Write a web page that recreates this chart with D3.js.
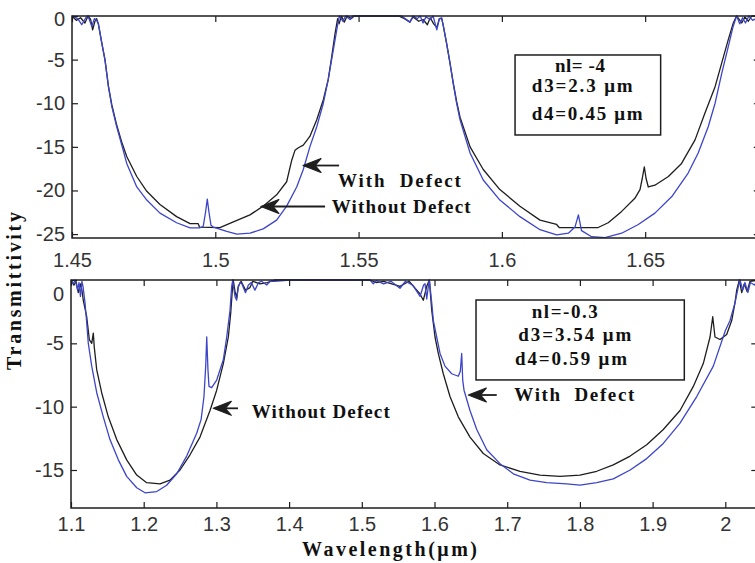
<!DOCTYPE html>
<html>
<head>
<meta charset="utf-8">
<script src="https://cdn.jsdelivr.net/npm/d3@7"></script>
<style>
  body { margin: 0; background: #fff; }
  svg { display: block; }
</style>
</head>
<body>
<svg id="chart" width="755" height="563"></svg>
<script>
// Transmission spectra (dB) versus wavelength (µm) for the two stacks.
// Each series is a list of [wavelength, transmittivity] pairs.

// Upper stack: nl = -4, d3 = 2.3 µm, d4 = 0.45 µm
const topWithDefect = [
  [1.4500,0],[1.4520,-0.3],[1.4534,-1.0],[1.4548,-0.2],[1.4556,0],[1.4569,-1.2],[1.4578,-0.3],
  [1.4586,-0.5],[1.4592,-0.9],[1.4604,-3.1],[1.4615,-5.0],[1.4627,-8.1],[1.4639,-10.4],
  [1.4656,-12.7],[1.4673,-14.7],[1.4691,-16.9],[1.4726,-19.6],[1.4761,-21.1],[1.4807,-22.6],
  [1.4865,-23.7],[1.4912,-24.3],[1.4945,-24.3],[1.4958,-24.1],[1.4966,-22.5],[1.4972,-21.0],
  [1.4978,-22.5],[1.4985,-24.0],[1.4993,-24.2],[1.5040,-24.7],[1.5075,-25.0],[1.5121,-24.9],
  [1.5167,-24.4],[1.5214,-23.4],[1.5249,-21.8],[1.5284,-19.6],[1.5307,-17.6],[1.5330,-15.0],
  [1.5354,-12.7],[1.5377,-10.0],[1.5394,-7.3],[1.5406,-5.0],[1.5418,-2.7],[1.5427,-1.0],
  [1.5433,0],[1.5445,-0.6],[1.5455,0],[1.5470,-0.4],[1.5480,0],[1.5650,0],[1.5679,-0.7],
  [1.5690,0],[1.5705,-0.3],[1.5715,0],[1.5725,-0.8],[1.5735,-0.1],[1.5750,-0.4],[1.5760,0],
  [1.5773,-1.6],[1.5782,-0.3],[1.5790,-0.2],[1.5796,-1.2],[1.5807,-3.1],[1.5819,-5.4],
  [1.5830,-7.7],[1.5842,-10.0],[1.5854,-11.9],[1.5889,-15.7],[1.5935,-18.8],[1.5993,-21.1],
  [1.6063,-23.0],[1.6133,-24.5],[1.6191,-25.1],[1.6232,-24.9],[1.6255,-24.2],[1.6267,-22.8],
  [1.6278,-24.6],[1.6313,-25.3],[1.6360,-25.4],[1.6418,-24.9],[1.6476,-23.9],[1.6534,-22.6],
  [1.6593,-20.7],[1.6650,-18.0],[1.6685,-15.7],[1.6720,-12.7],[1.6744,-10.0],[1.6767,-6.6],
  [1.6790,-3.5],[1.6807,-1.2],[1.6819,0],[1.6830,-0.9],[1.6840,-0.2],[1.6850,-0.8],
  [1.6862,0],[1.6875,-0.5],[1.6900,0]
];
const topWithoutDefect = [
  [1.4500,0],[1.4515,-0.5],[1.4530,-0.2],[1.4545,-0.8],[1.4556,0],[1.4565,-0.4],[1.4572,-1.6],
  [1.4580,-0.6],[1.4586,-0.3],[1.4592,-0.9],[1.4604,-3.1],[1.4615,-5.0],[1.4627,-8.0],
  [1.4639,-10.2],[1.4656,-12.5],[1.4673,-14.4],[1.4691,-16.1],[1.4726,-18.4],[1.4761,-20.1],
  [1.4807,-21.6],[1.4865,-23.0],[1.4912,-23.8],[1.4940,-23.8],[1.4945,-24.2],[1.5016,-24.25],
  [1.5063,-23.6],[1.5121,-22.8],[1.5167,-21.8],[1.5214,-20.5],[1.5249,-19.0],[1.5267,-16.5],
  [1.5278,-15.4],[1.5290,-15.1],[1.5307,-14.8],[1.5330,-13.8],[1.5354,-11.9],[1.5377,-9.6],
  [1.5394,-7.3],[1.5406,-4.7],[1.5418,-2.0],[1.5424,-0.84],[1.5427,-0.3],[1.5432,-0.9],
  [1.5440,0],[1.5450,-0.7],[1.5460,0],[1.5475,-0.3],[1.5485,0],[1.5640,0],[1.5660,-0.3],
  [1.5679,-0.7],[1.5690,-0.1],[1.5710,-0.6],[1.5725,-0.4],[1.5740,-1.0],[1.5750,-0.2],
  [1.5762,-0.9],[1.5773,-1.3],[1.5782,-0.3],[1.5790,-0.3],[1.5796,-1.2],[1.5807,-3.1],
  [1.5819,-5.4],[1.5830,-7.6],[1.5842,-9.8],[1.5854,-11.6],[1.5889,-15.0],[1.5935,-17.6],
  [1.5993,-19.9],[1.6063,-21.8],[1.6133,-23.4],[1.6191,-23.9],[1.6200,-24.25],[1.6336,-24.25],
  [1.6371,-23.7],[1.6418,-22.4],[1.6464,-20.9],[1.6482,-19.9],[1.6490,-18.6],[1.6497,-17.3],
  [1.6503,-18.6],[1.6511,-19.6],[1.6534,-19.4],[1.6581,-18.4],[1.6627,-16.9],[1.6674,-14.2],
  [1.6709,-11.1],[1.6744,-8.1],[1.6767,-5.4],[1.6790,-2.7],[1.6807,-0.84],[1.6819,0],
  [1.6837,-0.8],[1.6848,-0.1],[1.6860,-0.6],[1.6872,0],[1.6900,0]
];

// Lower stack: nl = -0.3, d3 = 3.54 µm, d4 = 0.59 µm
const bottomWithDefect = [
  [1.1000,0],[1.1030,-0.3],[1.1060,0],[1.1090,-0.8],[1.1110,-0.2],[1.1130,-1.3],[1.1150,-0.1],
  [1.1165,-0.5],[1.1193,-1.8],[1.1216,-3.4],[1.1238,-5.0],[1.1285,-6.8],[1.1354,-8.9],
  [1.1444,-10.8],[1.1536,-12.6],[1.1651,-14.2],[1.1766,-15.5],[1.1904,-16.4],[1.2018,-16.8],
  [1.2179,-16.7],[1.2316,-16.2],[1.2454,-15.3],[1.2591,-13.9],[1.2729,-12.1],[1.2790,-11.0],
  [1.2829,-9.2],[1.2853,-6.8],[1.2867,-4.5],[1.2884,-7.1],[1.2898,-8.4],[1.2935,-8.5],
  [1.3004,-7.9],[1.3095,-6.3],[1.3142,-4.5],[1.3187,-2.4],[1.3210,-0.5],[1.3225,0],
  [1.3240,-0.7],[1.3256,-1.3],[1.3279,-1.6],[1.3300,-0.6],[1.3325,-0.2],[1.3350,-0.3],
  [1.3400,-1.0],[1.3440,-0.4],[1.3480,-0.2],[1.3530,-0.8],[1.3580,-0.2],[1.3620,-0.1],
  [1.3692,-0.4],[1.3737,-0.1],[1.3800,-0.1],[1.4012,0],[1.5113,0],[1.5158,-0.3],[1.5200,-0.05],
  [1.5300,-0.3],[1.5400,-0.1],[1.5525,-0.65],[1.5600,-0.1],[1.5700,-0.4],[1.5801,-1.3],
  [1.5850,-0.4],[1.5870,-0.3],[1.5893,-1.5],[1.5915,-0.5],[1.5930,0],[1.5938,-0.5],
  [1.5962,-1.8],[1.5984,-3.2],[1.6030,-4.5],[1.6076,-5.8],[1.6144,-6.8],[1.6237,-7.4],
  [1.6327,-7.6],[1.6355,-7.2],[1.6374,-5.8],[1.6388,-7.9],[1.6406,-8.7],[1.6488,-10.3],
  [1.6581,-11.8],[1.6718,-13.4],[1.6901,-14.5],[1.7084,-15.3],[1.7314,-15.8],[1.7543,-16.0],
  [1.7818,-16.1],[1.8001,-16.2],[1.8231,-16.0],[1.8459,-15.7],[1.8691,-15.0],[1.8919,-14.1],
  [1.9147,-12.9],[1.9377,-11.3],[1.9607,-9.2],[1.9835,-6.8],[2.0000,-4.0],[2.0065,-3.2],
  [2.0133,-1.8],[2.0180,-0.5],[2.0202,0],[2.0240,-0.8],[2.0270,-0.2],[2.0310,-1.0],
  [2.0345,-0.2],[2.0400,-0.4],[2.0450,0]
];
const bottomWithoutDefect = [
  [1.1000,0],[1.1040,-0.4],[1.1070,-0.1],[1.1100,-1.0],[1.1130,-0.3],[1.1150,-0.8],
  [1.1169,-1.6],[1.1216,-2.9],[1.1252,-4.7],[1.1285,-5.0],[1.1307,-4.2],[1.1320,-5.3],
  [1.1354,-7.1],[1.1422,-8.9],[1.1513,-10.8],[1.1629,-12.6],[1.1766,-14.2],[1.1904,-15.4],
  [1.2041,-16.0],[1.2224,-16.1],[1.2362,-15.8],[1.2499,-15.0],[1.2637,-13.8],[1.2774,-12.4],
  [1.2912,-10.3],[1.3004,-8.7],[1.3095,-6.6],[1.3164,-4.5],[1.3197,-2.6],[1.3219,-0.8],
  [1.3232,0],[1.3256,-0.9],[1.3279,-1.4],[1.3300,-0.5],[1.3340,-0.1],[1.3400,-0.8],
  [1.3462,-0.6],[1.3500,-0.1],[1.3600,-0.3],[1.3700,-0.2],[1.3800,0],[1.5113,0],
  [1.5200,-0.2],[1.5300,-0.1],[1.5525,-0.5],[1.5650,-0.1],[1.5801,-1.1],[1.5846,-1.6],
  [1.5893,-0.5],[1.5929,0],[1.5962,-2.4],[1.6007,-4.5],[1.6052,-5.8],[1.6121,-7.4],
  [1.6213,-9.2],[1.6327,-10.8],[1.6488,-12.4],[1.6671,-13.7],[1.6901,-14.6],[1.7176,-15.1],
  [1.7451,-15.4],[1.7726,-15.5],[1.8001,-15.4],[1.8231,-15.1],[1.8459,-14.6],[1.8691,-13.9],
  [1.8919,-13.0],[1.9147,-11.8],[1.9377,-10.3],[1.9560,-8.4],[1.9697,-6.6],[1.9790,-4.5],
  [1.9827,-2.9],[1.9858,-4.5],[1.9927,-4.7],[2.0019,-4.3],[2.0088,-3.2],[2.0133,-1.8],
  [2.0157,-0.8],[2.0193,0],[2.0226,-1.0],[2.0260,-0.3],[2.0300,-0.9],[2.0340,-0.1],[2.0450,0]
];

// Tick values
const topXTicks = [1.45, 1.5, 1.55, 1.6, 1.65];
const topYTicks = [0, -5, -10, -15, -20, -25];
const bottomXTicks = [1.1, 1.2, 1.3, 1.4, 1.5, 1.6, 1.7, 1.8, 1.9, 2.0];
const bottomYTicks = [0, -5, -10, -15];

// Text
const xAxisTitle = "Wavelength(μm)";
const yAxisTitle = "Transmittivity";
const topBoxLines = ["nl= -4", "d3=2.3 μm", "d4=0.45 μm"];
const bottomBoxLines = ["nl=-0.3", "d3=3.54 μm", "d4=0.59 μm"];
const withLabel = "With  Defect";
const withoutLabel = "Without Defect";

const BLACK = "#1e1e1e";
const BLUE = "#3d45c8";
const SERIF = "'Liberation Serif', 'Times New Roman', serif";
const SANS = "'Liberation Sans', Arial, sans-serif";
const NOTE_SIZE = 19;

const svg = d3.select("#chart");
const fmt = d => String(+d.toFixed(2));

function drawPanel(p) {
  const x = d3.scaleLinear().domain(p.xDomain).range(p.xRange);
  const y = d3.scaleLinear().domain(p.yDomain).range(p.yRange);
  const g = svg.append("g");
  const [x0, x1] = p.xRange, [yb, yt] = p.yRange;

  const clipId = "clip-" + p.id;
  g.append("clipPath").attr("id", clipId)
    .append("rect").attr("x", x0).attr("y", yt - 1).attr("width", x1 - x0).attr("height", yb - yt + 1);

  const line = d3.line().x(d => x(d[0])).y(d => y(d[1]));
  const curves = g.append("g").attr("clip-path", `url(#${clipId})`);
  curves.append("path").datum(p.without).attr("d", line)
    .attr("fill", "none").attr("stroke", BLACK).attr("stroke-width", 1.3).attr("stroke-linejoin", "round");
  curves.append("path").datum(p.with).attr("d", line)
    .attr("fill", "none").attr("stroke", BLUE).attr("stroke-width", 1.3).attr("stroke-linejoin", "round");

  // axes with inward ticks on all four sides
  const axB = g.append("g").attr("transform", `translate(0,${yb})`)
    .call(d3.axisBottom(x).tickValues(p.xTicks).tickFormat(fmt).tickSizeInner(-6).tickSizeOuter(0).tickPadding(p.xPad));
  const axT = g.append("g").attr("transform", `translate(0,${yt})`)
    .call(d3.axisTop(x).tickValues(p.xTicks).tickFormat("").tickSizeInner(-6).tickSizeOuter(0));
  const axL = g.append("g").attr("transform", `translate(${x0},0)`)
    .call(d3.axisLeft(y).tickValues(p.yTicks).tickFormat(fmt).tickSizeInner(-6).tickSizeOuter(0).tickPadding(7));
  const axR = g.append("g").attr("transform", `translate(${x1},0)`)
    .call(d3.axisRight(y).tickValues(p.yTicks).tickFormat("").tickSizeInner(-6).tickSizeOuter(0));
  [axB, axT, axL, axR].forEach(a => {
    a.select(".domain").remove();
    a.selectAll(".tick line").attr("stroke", BLACK).attr("stroke-width", 1.2);
    a.selectAll("text").attr("font-family", SANS).attr("font-size", 20).attr("fill", "#333");
  });
  if (p.zeroShift) axL.selectAll(".tick").filter(d => d === 0).select("text").attr("dy", p.zeroShift);

  g.append("rect").attr("x", x0).attr("y", yt).attr("width", x1 - x0).attr("height", yb - yt)
    .attr("fill", "none").attr("stroke", BLACK).attr("stroke-width", 1.5);

  // parameter box
  const b = p.box;
  g.append("rect").attr("x", x(b.x0)).attr("y", y(b.y0))
    .attr("width", x(b.x1) - x(b.x0)).attr("height", y(b.y1) - y(b.y0))
    .attr("fill", "#fff").attr("stroke", BLACK).attr("stroke-width", 1.5);
  b.lines.forEach((t, i) => {
    const l = b.pos[i];
    g.append("text").attr("x", x(l[0])).attr("y", y(l[1])).attr("textLength", l[2])
      .attr("font-family", SERIF).attr("font-weight", "bold").attr("font-size", NOTE_SIZE)
      .attr("fill", "#111").text(t);
  });

  // labelled arrows
  p.notes.forEach(n => {
    const tx = x(n.tip[0]), ty = y(n.tip[1]), tail = x(n.tail);
    g.append("line").attr("x1", tx + 10).attr("y1", ty).attr("x2", tail).attr("y2", ty)
      .attr("stroke", BLACK).attr("stroke-width", 1.8);
    g.append("path")
      .attr("d", `M${tx},${ty} L${tx + 18},${ty - 7} L${tx + 12},${ty} L${tx + 18},${ty + 7} Z`)
      .attr("fill", BLACK).attr("stroke", BLACK).attr("stroke-width", 1.2).attr("stroke-linejoin", "round");
    g.append("text").attr("x", x(n.text[0])).attr("y", y(n.text[1])).attr("textLength", n.text[2])
      .attr("font-family", SERIF).attr("font-weight", "bold").attr("font-size", NOTE_SIZE)
      .attr("fill", "#111").style("white-space", "pre").text(n.label);
  });
}

drawPanel({
  id: "top",
  xDomain: [1.45, 1.69], xRange: [72, 759.8],
  yDomain: [-25.45, 0], yRange: [238, 16],
  xTicks: topXTicks, yTicks: topYTicks, xPad: 15, zeroShift: "0.45em",
  with: topWithDefect, without: topWithoutDefect,
  box: { x0: 1.6046, x1: 1.6554, y0: -4.47, y1: -13.64, lines: topBoxLines,
         pos: [[1.6185, -6.39, 50], [1.6104, -8.68, 101], [1.6104, -11.92, 111]] },
  notes: [
    { label: withLabel, tip: [1.5306, -17.14], tail: 1.5432, text: [1.5428, -19.6, 123] },
    { label: withoutLabel, tip: [1.5159, -21.84], tail: 1.5383, text: [1.5406, -22.62, 139] }
  ]
});

drawPanel({
  id: "bottom",
  xDomain: [1.1, 2.044], xRange: [71, 757.3],
  yDomain: [-18, 0], yRange: [508, 280],
  xTicks: bottomXTicks, yTicks: bottomYTicks, xPad: 9, zeroShift: "1em",
  with: bottomWithDefect, without: bottomWithoutDefect,
  box: { x0: 1.6571, x1: 1.9436, y0: -1.58, y1: -7.89, lines: bottomBoxLines,
         pos: [[1.7337, -3.02, 66], [1.7153, -4.82, 113], [1.7107, -6.71, 112]] },
  notes: [
    { label: withLabel, tip: [1.6465, -9.08], tail: 1.6856, text: [1.7098, -9.55, 120] },
    { label: withoutLabel, tip: [1.2957, -10.13], tail: 1.3297, text: [1.3486, -10.92, 138] }
  ]
});

// axis titles
svg.append("text").attr("x", 302).attr("y", 556).attr("textLength", 175)
  .attr("font-family", SERIF).attr("font-weight", "bold").attr("font-size", 20)
  .attr("fill", "#111").text(xAxisTitle);
svg.append("text").attr("transform", "translate(21,291) rotate(-90)")
  .attr("text-anchor", "middle").attr("textLength", 158)
  .attr("font-family", SERIF).attr("font-weight", "bold").attr("font-size", 20)
  .attr("fill", "#111").text(yAxisTitle);
</script>
</body>
</html>
